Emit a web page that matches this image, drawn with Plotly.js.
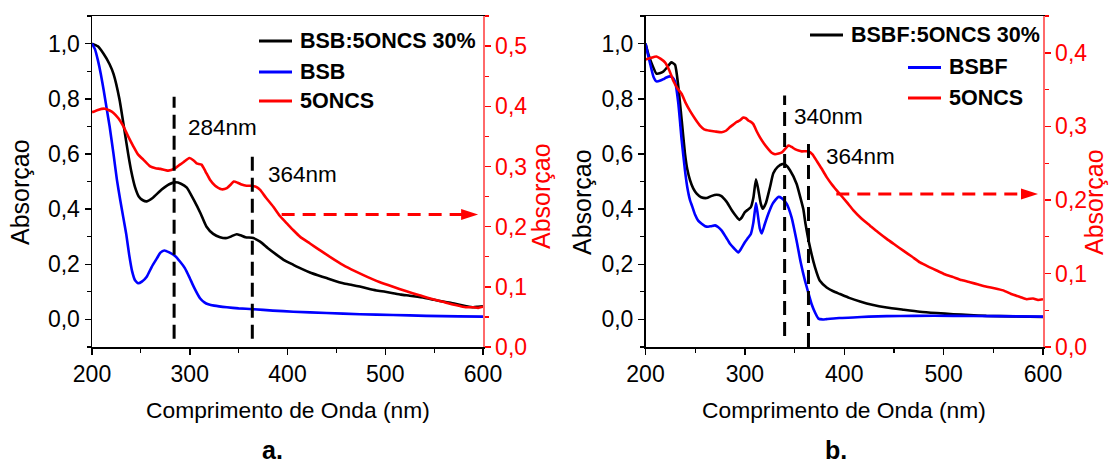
<!DOCTYPE html>
<html>
<head>
<meta charset="utf-8">
<script src="https://cdn.plot.ly/plotly-3.0.1.min.js"></script>
<style>
  html, body { margin: 0; padding: 0; background: #ffffff; }
  #chart { width: 1110px; height: 468px; }
</style>
</head>
<body>
<div id="chart"></div>
<script>
// ---------- Panel a: BSB, 5ONCS and the 30% blend ----------
const wlBlendA = [200,206,212,218,222,228,233,237,240,244,248,252,256,262,271,279,285,291,297,304,311,317,324,331,338,343,348,352,357,365,372,380,389,397,406,414,423,431,440,448,457,466,474,482,491,500,508,516,525,533,542,550,559,567,576,583,590,595,600];
const absBlendA = [1.0,0.99,0.962,0.925,0.89,0.80,0.69,0.60,0.54,0.48,0.445,0.432,0.428,0.44,0.47,0.49,0.497,0.492,0.478,0.434,0.385,0.337,0.31,0.298,0.295,0.302,0.309,0.305,0.298,0.295,0.282,0.258,0.234,0.214,0.198,0.184,0.170,0.160,0.150,0.140,0.131,0.125,0.119,0.112,0.105,0.100,0.095,0.090,0.086,0.082,0.077,0.071,0.065,0.060,0.053,0.048,0.044,0.046,0.048];

const wlBSB = [200,203,206,209,212,215,218,222,225.5,229,232,235,238,241,244,247.4,251,256,261,266.5,270,274,279,285,290,295,300,304,310.5,315,319,325,338,350,365,385,406,440,474,508,542,575,600];
const absBSB = [1.0,0.98,0.94,0.89,0.83,0.765,0.70,0.60,0.506,0.43,0.37,0.31,0.235,0.175,0.142,0.131,0.137,0.155,0.19,0.222,0.242,0.25,0.243,0.23,0.21,0.186,0.15,0.119,0.077,0.062,0.055,0.05,0.044,0.04,0.037,0.032,0.028,0.023,0.019,0.016,0.013,0.011,0.010];

const wlONCSA = [200,206,213,218,222,227,232,237,242.4,247,252.7,259.5,265,270,278,285,290,293.5,299.6,304,307,312,316,320.7,326,332.6,338,342,345,349,353,358,364,368,372,378,385.5,392,399,406,413,423,433,445,457,469,481,494,508,521,535,547,559,568,576.5,583,590,595,600];
const absONCSA = [0.39,0.394,0.396,0.393,0.389,0.38,0.367,0.35,0.333,0.32,0.311,0.300,0.297,0.296,0.293,0.297,0.303,0.307,0.314,0.31,0.305,0.303,0.292,0.278,0.268,0.262,0.264,0.27,0.275,0.273,0.27,0.268,0.268,0.266,0.261,0.248,0.233,0.218,0.206,0.194,0.183,0.172,0.161,0.148,0.136,0.126,0.117,0.108,0.100,0.093,0.086,0.080,0.075,0.071,0.068,0.066,0.066,0.065,0.067];

// ---------- Panel b: BSBF, 5ONCS and the 30% blend ----------
const wlBlendB = [200,203,206,211,215,218,222,226,229.7,233,236.4,239.7,242,244.8,248,251.5,256,261.6,266,271.6,276,281.7,287,291,294.4,297,300,303,306,308.5,311.2,313.5,316,318,321,325.3,328.6,333,337.6,341,345.4,352,356,358.8,361,365.5,370.6,375.5,382.3,389,395.7,405,415.9,428,442.7,460,476,493,509.7,526,543,570,600];
const absBlendB = [1.0,0.96,0.93,0.891,0.893,0.899,0.915,0.932,0.923,0.845,0.723,0.602,0.545,0.505,0.475,0.456,0.443,0.44,0.447,0.452,0.448,0.426,0.395,0.375,0.361,0.37,0.389,0.398,0.407,0.44,0.508,0.47,0.42,0.401,0.42,0.48,0.53,0.553,0.563,0.56,0.541,0.492,0.44,0.40,0.347,0.262,0.189,0.140,0.116,0.102,0.092,0.078,0.065,0.053,0.043,0.035,0.028,0.023,0.019,0.016,0.013,0.011,0.009];

const wlBSBF = [200,202.5,204.5,208,211,215,218,221,224.6,227,229.7,233,236.4,239.7,242,244.8,247,249.8,253,256.5,260,263,266,270,273,276.7,281,285,289,293.4,296,300,303,306,308.5,311.2,313,315,317,320,323.6,328,333.6,337,342,347,352,356,360.5,364,367.2,370.6,374,378,382,395,409,425,442.7,470,510,550,600];
const absBSBF = [1.0,0.96,0.93,0.88,0.863,0.866,0.871,0.877,0.881,0.878,0.863,0.784,0.65,0.541,0.48,0.432,0.41,0.38,0.358,0.347,0.338,0.336,0.338,0.341,0.335,0.322,0.298,0.274,0.258,0.243,0.255,0.280,0.295,0.31,0.35,0.422,0.38,0.33,0.312,0.345,0.383,0.42,0.444,0.44,0.42,0.37,0.286,0.21,0.14,0.095,0.055,0.025,0.003,0.0,0.001,0.005,0.007,0.010,0.012,0.013,0.013,0.012,0.010];

const wlONCSB = [200,205,211,215,219.6,224,228,232,236.4,240,244.8,250,254.8,259,264.9,270,276.7,281,285,288,291.8,295,298.4,301,303.4,306,308.5,312,315.2,319,323.6,327,330.3,334,337.6,341,343.7,347,350.4,354,357.2,363.8,368,372.3,377,382.3,387,392.4,402.5,409,417,425.9,434,442.7,451,459.4,468,476.2,485,493,501,509.7,518,526.5,535,543.3,551,560,568,576.9,583.6,590,595,600];
const absONCSB = [0.391,0.393,0.395,0.392,0.387,0.376,0.362,0.352,0.344,0.333,0.321,0.31,0.301,0.296,0.294,0.293,0.292,0.294,0.299,0.302,0.306,0.308,0.312,0.311,0.308,0.306,0.303,0.293,0.285,0.277,0.269,0.264,0.262,0.263,0.265,0.27,0.274,0.272,0.269,0.267,0.266,0.266,0.262,0.253,0.243,0.231,0.222,0.213,0.197,0.186,0.175,0.165,0.156,0.147,0.139,0.131,0.123,0.115,0.109,0.104,0.099,0.095,0.091,0.088,0.085,0.082,0.080,0.077,0.072,0.068,0.065,0.066,0.064,0.065];

// Legend labels and marked wavelengths
const legendA = ['BSB:5ONCS 30%', 'BSB', '5ONCS'];
const legendB = ['BSBF:5ONCS 30%', 'BSBF', '5ONCS'];
const markA = [284, 364];
const markB = [340, 364];
const panelLabels = ['a.', 'b.'];
const yTitle = 'Absorçao';
const xTitle = 'Comprimento de Onda (nm)';

// ---------- drawing ----------
const W = 1110, H = 468;
const FONT = 'Liberation Sans, Arial, Helvetica, sans-serif';
const BLACK = '#000000', BLUE = '#0000ff', RED = '#ff0000';
const px = v => v / W;            // pixel -> paper x
const py = v => 1 - v / H;        // pixel -> paper y

const lineStyle = c => ({ color: c, width: 2.6, shape: 'spline', smoothing: 0.5 });

const traces = [
  { x: wlBlendA, y: absBlendA, name: legendA[0], xaxis: 'x', yaxis: 'y', mode: 'lines', line: lineStyle(BLACK) },
  { x: wlBSB, y: absBSB, name: legendA[1], xaxis: 'x', yaxis: 'y', mode: 'lines', line: lineStyle(BLUE) },
  { x: wlONCSA, y: absONCSA, name: legendA[2], xaxis: 'x', yaxis: 'y2', mode: 'lines', line: lineStyle(RED) },
  { x: wlBlendB, y: absBlendB, name: legendB[0], xaxis: 'x2', yaxis: 'y3', mode: 'lines', line: lineStyle(BLACK) },
  { x: wlBSBF, y: absBSBF, name: legendB[1], xaxis: 'x2', yaxis: 'y3', mode: 'lines', line: lineStyle(BLUE) },
  { x: wlONCSB, y: absONCSB, name: legendB[2], xaxis: 'x2', yaxis: 'y4', mode: 'lines', line: lineStyle(RED) }
];

const yDom = [py(347), py(16)];
const TICK_SIZE = 23;
const tickFont = { family: FONT, size: TICK_SIZE, color: BLACK };

function xAxis(domain, anchor) {
  return {
    domain, anchor, range: [200, 600], tick0: 200, dtick: 100,
    showline: true, linecolor: BLACK, linewidth: 1.5, mirror: true,
    ticks: 'outside', ticklen: 6, tickwidth: 1.5, tickcolor: BLACK,
    minor: { ticks: 'outside', dtick: 50, tick0: 200, ticklen: 4, tickwidth: 1.2, tickcolor: BLACK },
    showgrid: false, zeroline: false, tickfont: tickFont, fixedrange: true
  };
}
function yLeft(anchor) {
  return {
    domain: yDom, anchor, range: [-0.1, 1.1], tick0: 0, dtick: 0.2, tickformat: '.1f',
    showline: true, linecolor: BLACK, linewidth: 1.5,
    ticks: 'outside', ticklen: 6, tickwidth: 1.5, tickcolor: BLACK,
    minor: { ticks: 'outside', dtick: 0.1, tick0: 0, ticklen: 4, tickwidth: 1.2, tickcolor: BLACK },
    showgrid: false, zeroline: false, tickfont: tickFont, fixedrange: true
  };
}
function yRight(overlay, anchor, top) {
  return {
    overlaying: overlay, anchor, side: 'right', range: [0, top], tick0: 0, dtick: 0.1, tickformat: '.1f',
    showline: true, linecolor: '#ff6a6a', linewidth: 1.5,
    ticks: 'outside', ticklen: 6, tickwidth: 1.5, tickcolor: RED,
    minor: { ticks: 'outside', dtick: 0.05, tick0: 0, ticklen: 4, tickwidth: 1.2, tickcolor: RED },
    showgrid: false, zeroline: false, tickfont: { family: FONT, size: TICK_SIZE, color: RED }, fixedrange: true
  };
}

const shapes = [];
const annotations = [];

// dashed markers at the absorption bands
function markLine(xref, yref, x, top, bottom) {
  shapes.push({ type: 'line', xref, yref, x0: x, x1: x, y0: bottom, y1: top,
    line: { color: BLACK, width: 3, dash: '14px,7px' } });
}
markLine('x', 'y', markA[0], 0.807, -0.07);
markLine('x', 'y', markA[1], 0.594, -0.07);
markLine('x2', 'y3', markB[0], 0.812, -0.06);
markLine('x2', 'y3', markB[1], 0.645, -0.1);

function bandLabel(xref, yref, x, y, nm) {
  annotations.push({ xref, yref, x, y, text: nm + 'nm', showarrow: false, xanchor: 'left', yanchor: 'middle',
    font: { family: FONT, size: 22.5, color: BLACK } });
}
bandLabel('x', 'y', 296, 0.695, markA[0]);
bandLabel('x', 'y', 378, 0.525, markA[1]);
bandLabel('x2', 'y3', 347, 0.735, markB[0]);
bandLabel('x2', 'y3', 380, 0.589, markB[1]);

// red dashed arrow pointing to the right-hand axis
function axisArrow(xref, yref, x0, x1, y) {
  shapes.push({ type: 'line', xref, yref, x0, x1: x1 - 15, y0: y, y1: y,
    line: { color: RED, width: 3, dash: '13px,8px' } });
  shapes.push({ type: 'path', xref, yref, xsizemode: 'pixel', ysizemode: 'pixel', xanchor: x1, yanchor: y,
    path: 'M0,0 L-17,5.5 L-17,-5.5 Z', fillcolor: RED, line: { width: 0 } });
}
axisArrow('x', 'y2', 394, 595, 0.22);
axisArrow('x2', 'y4', 392, 595, 0.208);

// hand-placed legends
function legend(labels, rows) {
  const colors = [BLACK, BLUE, RED];
  rows.forEach((r, i) => {
    shapes.push({ type: 'line', xref: 'paper', yref: 'paper', x0: px(r.x0), x1: px(r.x0 + 33), y0: py(r.y), y1: py(r.y),
      line: { color: colors[i], width: 3 } });
    annotations.push({ xref: 'paper', yref: 'paper', x: px(r.x0 + 39), y: py(r.y), text: '<b>' + labels[i] + '</b>',
      showarrow: false, xanchor: 'left', yanchor: 'middle', font: { family: FONT, size: 21.5, color: BLACK } });
  });
}
legend(legendA, [{ x0: 259, y: 41 }, { x0: 259, y: 72 }, { x0: 259, y: 101 }]);
legend(legendB, [{ x0: 810, y: 35 }, { x0: 908, y: 67.5 }, { x0: 908, y: 98 }]);

// axis titles and panel letters
function textAt(x, y, text, opts) {
  annotations.push(Object.assign({ xref: 'paper', yref: 'paper', x: px(x), y: py(y), text, showarrow: false,
    xanchor: 'center', yanchor: 'middle' }, opts));
}
const titleFont = c => ({ family: FONT, size: 25, color: c });
textAt(20, 192, yTitle, { textangle: -90, font: titleFont(BLACK) });
textAt(541, 196, yTitle, { textangle: -90, font: titleFont(RED) });
textAt(582, 202, yTitle, { textangle: -90, font: titleFont(BLACK) });
textAt(1094, 202, yTitle, { textangle: -90, font: titleFont(RED) });
textAt(288, 410, xTitle, { font: { family: FONT, size: 22.8, color: BLACK } });
textAt(844, 410, xTitle, { font: { family: FONT, size: 22.8, color: BLACK } });
textAt(272, 450, '<b>' + panelLabels[0] + '</b>', { font: { family: FONT, size: 25, color: BLACK } });
textAt(836, 450, '<b>' + panelLabels[1] + '</b>', { font: { family: FONT, size: 25, color: BLACK } });

const layout = {
  width: W, height: H,
  margin: { l: 0, r: 0, t: 0, b: 0 },
  paper_bgcolor: '#ffffff', plot_bgcolor: 'rgba(0,0,0,0)',
  separators: ',.',
  showlegend: false,
  font: { family: FONT, color: BLACK },
  xaxis: xAxis([px(92), px(483)], 'y'),
  yaxis: yLeft('x'),
  yaxis2: yRight('y', 'x', 0.55),
  xaxis2: xAxis([px(645.5), px(1043)], 'y3'),
  yaxis3: yLeft('x2'),
  yaxis4: yRight('y3', 'x2', 0.45),
  shapes, annotations
};

Plotly.newPlot('chart', traces, layout, { staticPlot: true, displayModeBar: false });
</script>
</body>
</html>
